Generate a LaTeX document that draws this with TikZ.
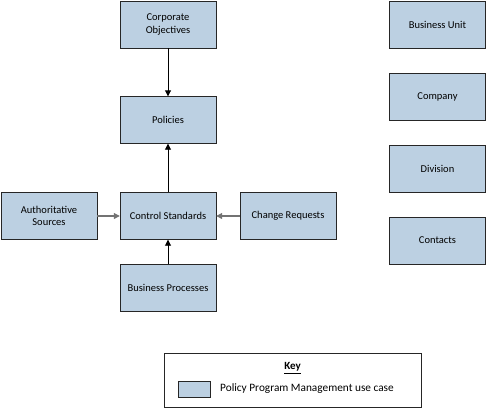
\documentclass[tikz,border=0pt]{standalone}
\usepackage{fontspec}
\setmainfont{Carlito}
\usetikzlibrary{arrows.meta}

\definecolor{usecase}{HTML}{BCD0E2}
\tikzset{
  usecasebox/.style={draw=black!85, fill=usecase, minimum width=96pt, minimum height=47pt,
    align=center, inner sep=2pt, font=\fontsize{10.5}{12.5}\selectfont},
  flow/.style={-{Triangle[length=6pt,width=6pt]}, line width=0.9pt}
}

\begin{document}
\begin{tikzpicture}[x=1pt, y=-1pt]
  \def\boxW{96} % largura das caixas
  \useasboundingbox (0,0) rectangle (486,408);

  \node[usecasebox] (objectives) at (168,24.5) {Corporate\\Objectives};
  \node[usecasebox] (policies)   at (168,120) {Policies};
  \node[usecasebox] (standards)  at (168,216) {Control Standards};
  \node[usecasebox] (sources)    at (49,216)  {Authoritative\\Sources};
  \node[usecasebox] (requests)   at (288,216) {Change Requests};
  \node[usecasebox] (processes)  at (168,288) {Business Processes};

  \foreach \name/\txt [count=\i from 0] in {unit/Business Unit, company/Company, division/Division, contacts/Contacts} {
    \node[usecasebox] (\name) at (437.5, 24.5+\i*72) {\txt};
  }

  \draw[flow] (objectives) -- (policies);
  \draw[flow] (standards) -- (policies);
  \draw[flow] (processes) -- (standards);
  \draw[flow, draw=black!55, line width=1.1pt] (sources) -- (standards);
  \draw[flow, draw=black!55, line width=1.1pt] (requests) -- (standards);

  % legenda
  \node[draw=black!85, line width=0.6pt, minimum width=257pt, minimum height=54pt] (key) at (292.5,380) {};
  \node[font=\fontsize{11}{13}\selectfont\bfseries] (keytitle) at (292.5,368) {\underline{Key}};
  \node[draw=black!85, fill=usecase, minimum width=32pt, minimum height=16pt, inner sep=0pt] (swatch) at (194,389) {};
  \node[anchor=west, font=\fontsize{11.3}{13}\selectfont, inner sep=0pt] (keytext) at (220,389) {Policy Program Management use case};
\end{tikzpicture}
\end{document}
